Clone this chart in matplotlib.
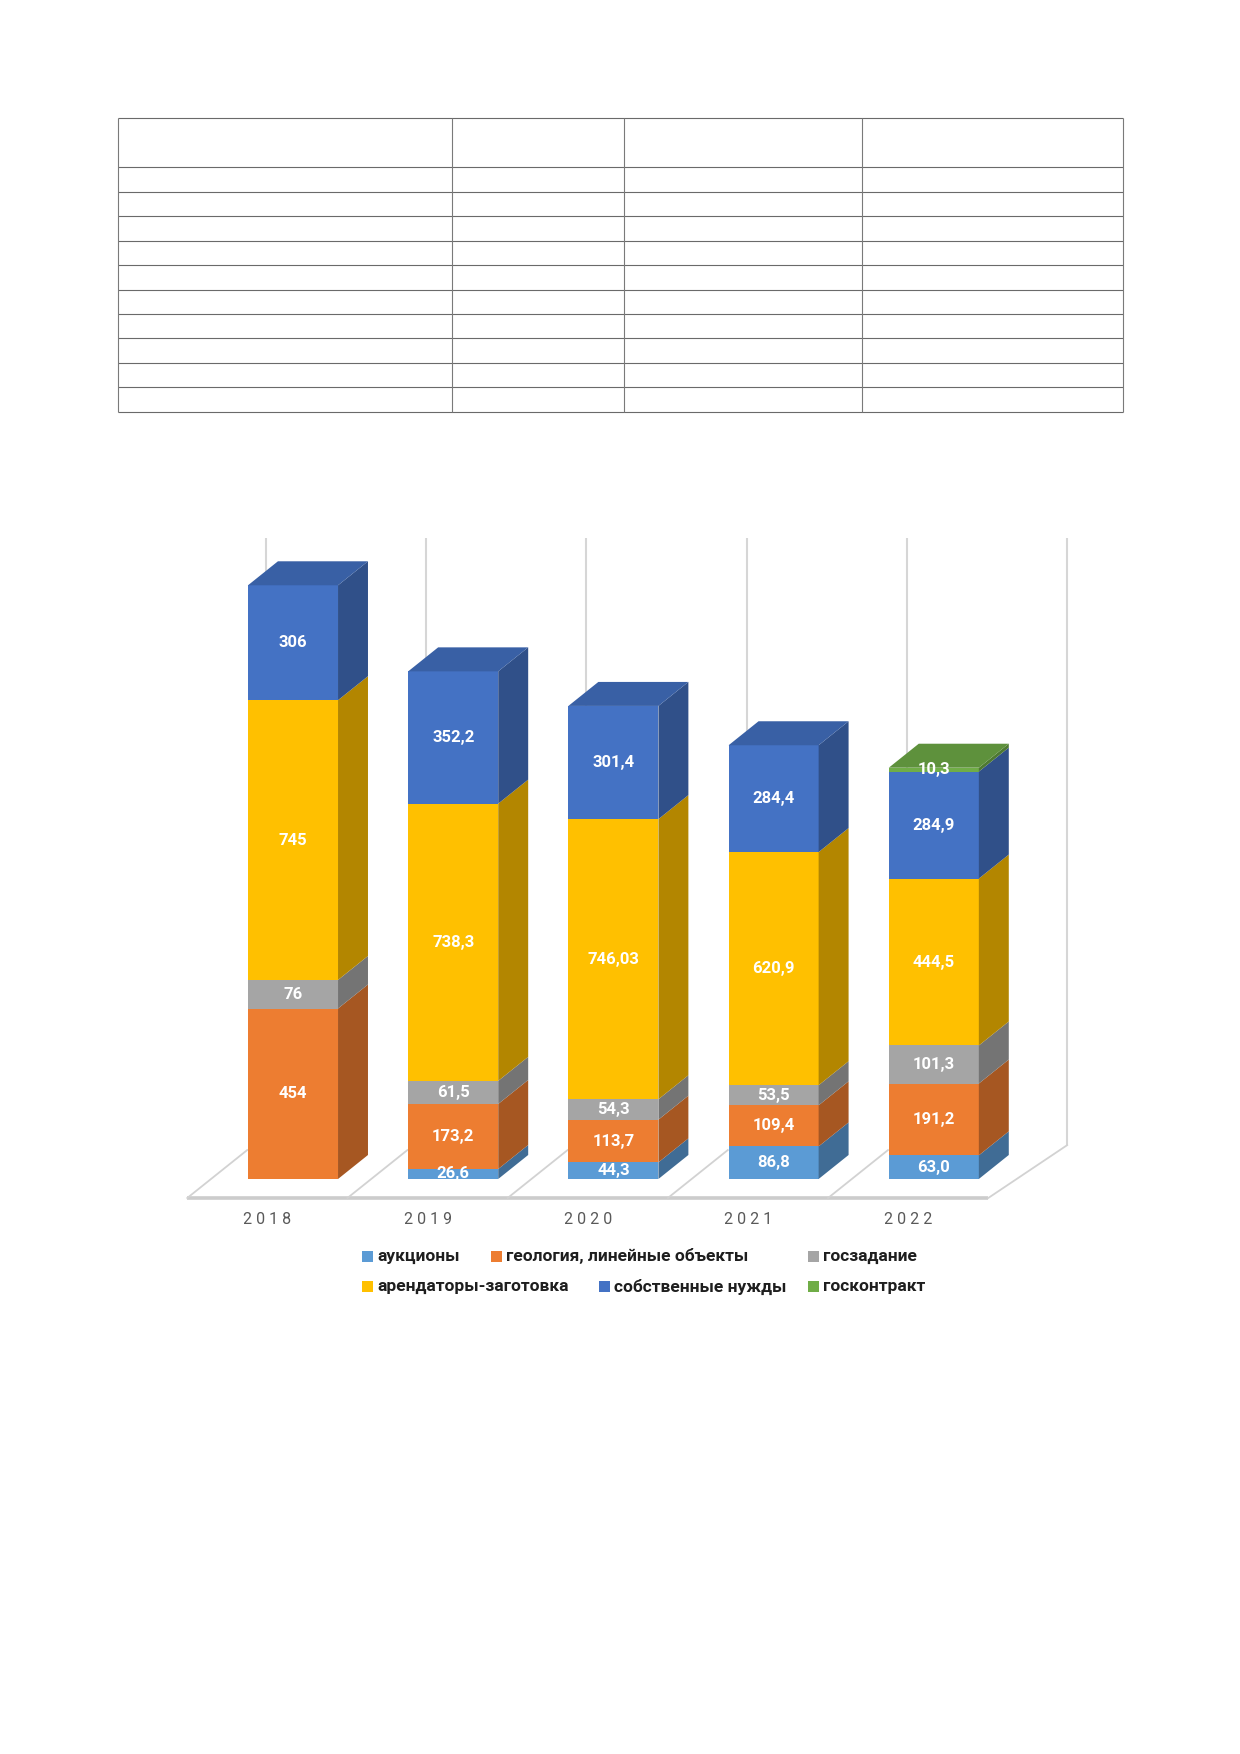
import matplotlib
matplotlib.use('Agg')
import matplotlib.pyplot as plt
from matplotlib.patches import Polygon, Rectangle
from matplotlib.colors import to_rgb

# ---------------- data ----------------
years = ['2018', '2019', '2020', '2021', '2022']
series_names = ['аукционы', 'геология, линейные объекты', 'госзадание',
                'арендаторы-заготовка', 'собственные нужды', 'госконтракт']
auktsiony = [0, 26.6, 44.3, 86.8, 63.0]
geologiya = [454, 173.2, 113.7, 109.4, 191.2]
goszadanie = [76, 61.5, 54.3, 53.5, 101.3]
arendatory = [745, 738.3, 746.03, 620.9, 444.5]
sobstvennye = [306, 352.2, 301.4, 284.4, 284.9]
goskontrakt = [0, 0, 0, 0, 10.3]
series_values = [auktsiony, geologiya, goszadanie, arendatory, sobstvennye, goskontrakt]
colors = ['#5B9BD5', '#ED7D31', '#A5A5A5', '#FFC000', '#4472C4', '#70AD47']

# ---------------- styles / layout ----------------
FONT = 'Roboto'
bar_w = 0.562
dx, dy = 0.187, 63.9          # 3-D depth offset (x units, value units)
side_k, top_k = 0.70, 0.84


def shade(c, k):
    r, g, b = to_rgb(c)
    return (r * k, g * k, b * k)


def fmt(v):
    return str(v).replace('.', ',')


fig = plt.figure(figsize=(12.4, 17.54), dpi=100)

# background axes in page pixels (table frame and legend)
bg = fig.add_axes([0, 0, 1, 1])
bg.set_xlim(0, 1240)
bg.set_ylim(1754, 0)
bg.axis('off')

# empty table grid
t_left, t_right = 118, 1122.5
t_cols = [118, 452.3, 624, 861.5, 1122.5]
t_top, t_header, t_row, t_n = 118.3, 49, 24.45, 10
t_rows = [t_top, t_top + t_header] + [t_top + t_header + t_row * (i + 1) for i in range(t_n)]
for y in t_rows:
    bg.plot([t_left, t_right], [y, y], color='#6a6a6a', lw=0.8, solid_capstyle='butt')
for x in t_cols:
    bg.plot([x, x], [t_rows[0], t_rows[-1]], color='#7a7a7a', lw=0.8, solid_capstyle='butt')

# ---------------- chart axes ----------------
ax = fig.add_axes([0.08126, 0.26360, 0.82685, 0.47101])
ax.set_xlim(-1.2, 5.2)
ax.set_ylim(-300, 1900)
ax.axis('off')
ax.patch.set_alpha(0)

n = len(years)
xs = list(range(n))

# back-wall vertical gridlines
grid_x0 = -0.168
grid_top, floor_back = 1707, 77
for k in range(n + 1):
    ax.plot([grid_x0 + k, grid_x0 + k], [floor_back if k < n else 90, grid_top],
            color='#d6d6d6', lw=1.5, zorder=1, solid_capstyle='butt')

# floor
floor_front = -50.6
fx0 = -0.66
ax.plot([fx0, fx0 + n], [floor_front, floor_front], color='#cccccc', lw=2.6, zorder=2,
        solid_capstyle='butt')
for k in range(n + 1):
    bx = fx0 + k + 0.374 if k < n else grid_x0 + n
    by = floor_back if k < n else 90
    ax.plot([fx0 + k, bx], [floor_front, by], color='#d2d2d2', lw=1.3, zorder=2)

# stacked 3-D bars
bottoms = [0.0] * n
tops_idx = []
for j in range(n):
    last = max(i for i in range(len(series_values)) if series_values[i][j] > 0)
    tops_idx.append(last)

for i, (vals, c) in enumerate(zip(series_values, colors)):
    ax.bar(xs, vals, width=bar_w, bottom=bottoms, color=c, linewidth=0, zorder=3)
    for j in range(n):
        v = vals[j]
        if v <= 0:
            continue
        y0 = bottoms[j]
        y1 = y0 + v
        xr = xs[j] + bar_w / 2
        xl = xs[j] - bar_w / 2
        side = Polygon([(xr, y0), (xr + dx, y0 + dy), (xr + dx, y1 + dy), (xr, y1)],
                       closed=True, facecolor=shade(c, side_k), edgecolor='none', zorder=3)
        ax.add_patch(side)
        if i == tops_idx[j]:
            top = Polygon([(xl, y1), (xl + dx, y1 + dy), (xr + dx, y1 + dy), (xr, y1)],
                          closed=True, facecolor=shade(c, top_k), edgecolor='none', zorder=3)
            ax.add_patch(top)
    bottoms = [b + v for b, v in zip(bottoms, vals)]

# data labels
bottoms = [0.0] * n
for vals in series_values:
    for j in range(n):
        v = vals[j]
        if v > 0:
            ax.text(xs[j], bottoms[j] + v / 2, fmt(v), ha='center', va='center',
                    color='white', fontsize=12, fontweight='bold', family=FONT, zorder=6)
    bottoms = [b + v for b, v in zip(bottoms, vals)]

# category labels
for j, yr in enumerate(years):
    ax.text(xs[j] - 0.16, -108, ' '.join(yr), ha='center', va='center',
            color='#595959', fontsize=11.5, family=FONT, zorder=6)

# ---------------- legend ----------------
leg_pos = [(362, 1256.5), (491, 1256.5), (808, 1256.5),
           (362, 1286.5), (599, 1286.5), (808, 1286.5)]
leg_order = [0, 1, 2, 3, 4, 5]
for (lx, ly), i in zip(leg_pos, leg_order):
    bg.add_patch(Rectangle((lx, ly - 5.5), 11, 11, facecolor=colors[i], edgecolor='none'))
    bg.text(lx + 15, ly, series_names[i], ha='left', va='center', color='#1e1e1e',
            fontsize=12.5, fontweight='bold', family=FONT)

fig.savefig('out.png', dpi=100)
